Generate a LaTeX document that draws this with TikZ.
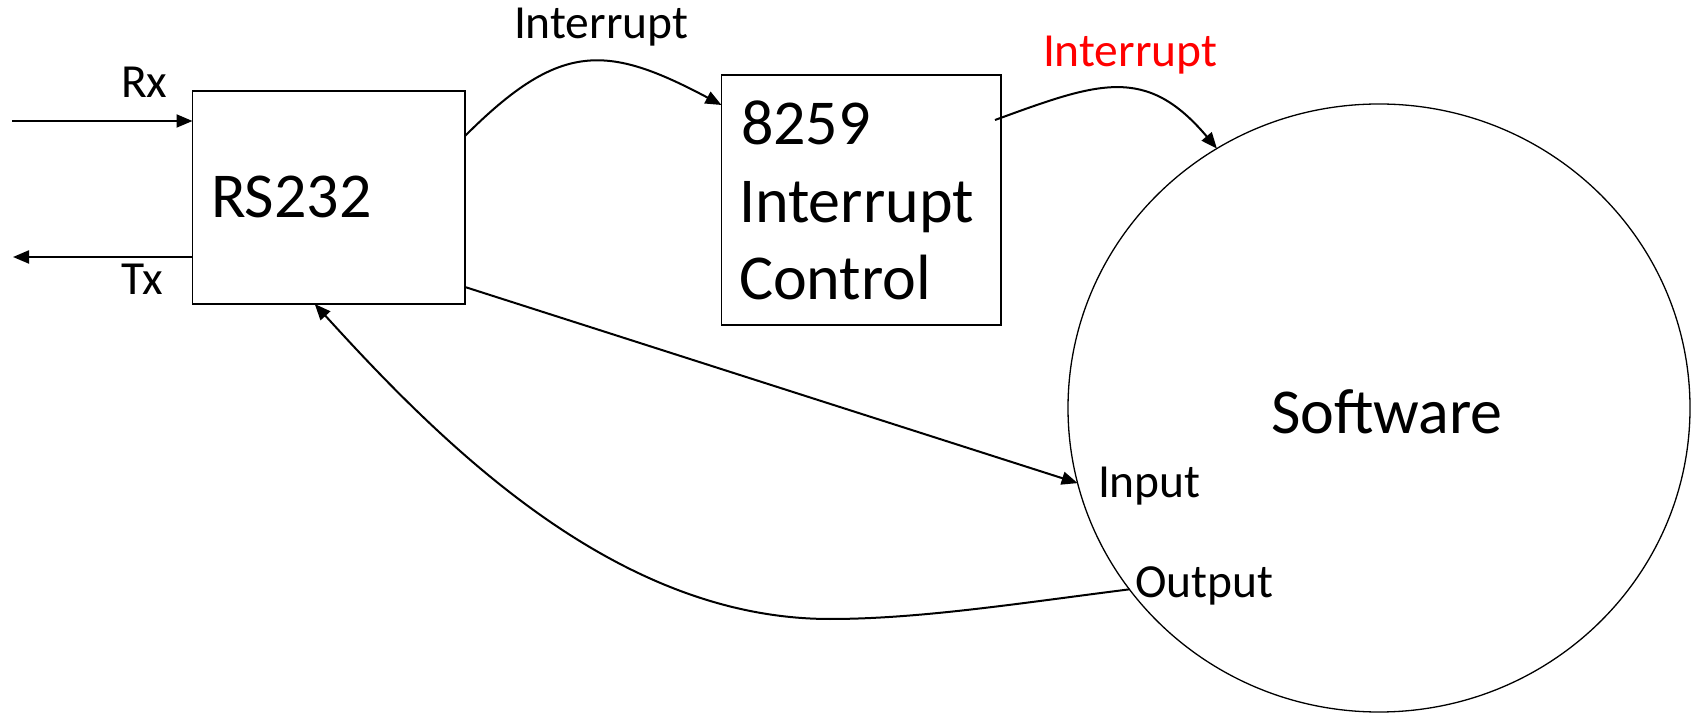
\documentclass[tikz,border=0pt]{standalone}
\usepackage{fontspec}
\setmainfont{Carlito}
\usetikzlibrary{arrows.meta,shapes.geometric}
\begin{document}
\begin{tikzpicture}[x=1pt,y=1pt,
  conn/.style={line width=2pt, -{Triangle[length=16pt,width=13pt]}},
  box/.style={draw, line width=1.7pt, rectangle, inner sep=0pt, outer sep=0pt},
  small/.style={inner sep=0pt, outer sep=0pt, anchor=base west, font=\fontsize{47.5}{57}\selectfont},
  big/.style={inner sep=0pt, outer sep=0pt, anchor=base west, font=\fontsize{64}{77}\selectfont}]
\useasboundingbox (0,0) rectangle (1696,712);

% blocks
\node[box, minimum width=272.5pt, minimum height=213pt] (rs) at (328.75,514.5) {};
\node[box, minimum width=279.5pt, minimum height=250pt] (ic) at (861.25,512) {};
\node[draw, ellipse, line width=1.3pt, minimum width=622pt, minimum height=608pt,
      inner sep=0pt, outer sep=0pt] (sw) at (1379,304) {};

% block texts
\node[big] (rst) at (211,494) {RS232};
\node[big] (l1) at (741,567) {8259};
\node[big] (l2) at (739,489) {Interrupt};
\node[big] (l3) at (739,412) {Control};
\node[big] (swt) at (1271,278) {Software};

% signal labels
\node[small] (rx) at (121,614) {Rx};
\node[small] (tx) at (121,417) {Tx};
\node[small] (irq1) at (514,673.5) {Interrupt};
\node[small, text=red] (irq2) at (1043,645) {Interrupt};
\node[small] (in) at (1098,214) {Input};
\node[small] (out) at (1135,114) {Output};

% serial line ends
\coordinate (rxin) at (12,591);
\coordinate (txout) at (13,455);
\draw[conn] (rxin) -- (rxin -| rs.west);
\draw[conn] (txout -| rs.west) -- (txout);

% interrupt path
\draw[conn] ([yshift=-45pt]rs.north east) .. controls +(95,95) and +(-115,61) .. ([yshift=-30pt]ic.north west);
\draw[conn] ([xshift=-6pt,yshift=-45pt]ic.north east) .. controls +(103,37.6) and +(-71,84.3) .. (sw.122);

% data paths
\draw[conn] ([yshift=17pt]rs.south east) -- (sw.194);
\draw[conn] (sw.216) .. controls (1021,109) and (920,93) .. (830,93)
  .. controls (620,93) and (449,260) .. ([xshift=-14pt]rs.south);
\end{tikzpicture}
\end{document}
